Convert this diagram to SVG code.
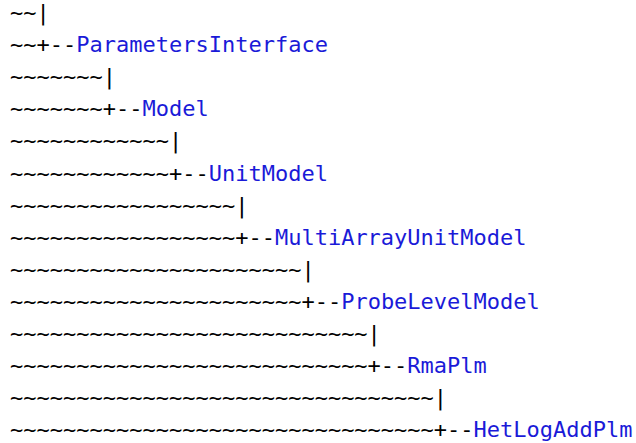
<svg xmlns="http://www.w3.org/2000/svg" width="636" height="443" viewBox="0 0 636 443">
<style>
text{font-family:"DejaVu Sans Mono","Liberation Mono",monospace;font-size:22px;fill:#000;white-space:pre}
.n{fill:#1a1ad8}
</style>
<rect width="636" height="443" fill="#fff"/>
<g id="tree">
<text x="10" y="20">~~|</text>
<g id="ParametersInterface"><text x="10" y="52.1">~~+--<tspan class="n">ParametersInterface</tspan></text></g>
<text x="10" y="84.2">~~~~~~~|</text>
<g id="Model"><text x="10" y="116.3">~~~~~~~+--<tspan class="n">Model</tspan></text></g>
<text x="10" y="148.4">~~~~~~~~~~~~|</text>
<g id="UnitModel"><text x="10" y="180.5">~~~~~~~~~~~~+--<tspan class="n">UnitModel</tspan></text></g>
<text x="10" y="212.6">~~~~~~~~~~~~~~~~~|</text>
<g id="MultiArrayUnitModel"><text x="10" y="244.7">~~~~~~~~~~~~~~~~~+--<tspan class="n">MultiArrayUnitModel</tspan></text></g>
<text x="10" y="276.8">~~~~~~~~~~~~~~~~~~~~~~|</text>
<g id="ProbeLevelModel"><text x="10" y="308.9">~~~~~~~~~~~~~~~~~~~~~~+--<tspan class="n">ProbeLevelModel</tspan></text></g>
<text x="10" y="341">~~~~~~~~~~~~~~~~~~~~~~~~~~~|</text>
<g id="RmaPlm"><text x="10" y="373.1">~~~~~~~~~~~~~~~~~~~~~~~~~~~+--<tspan class="n">RmaPlm</tspan></text></g>
<text x="10" y="405.2">~~~~~~~~~~~~~~~~~~~~~~~~~~~~~~~~|</text>
<g id="HetLogAddPlm"><text x="10" y="437.3">~~~~~~~~~~~~~~~~~~~~~~~~~~~~~~~~+--<tspan class="n">HetLogAddPlm</tspan></text></g>
</g>
</svg>
